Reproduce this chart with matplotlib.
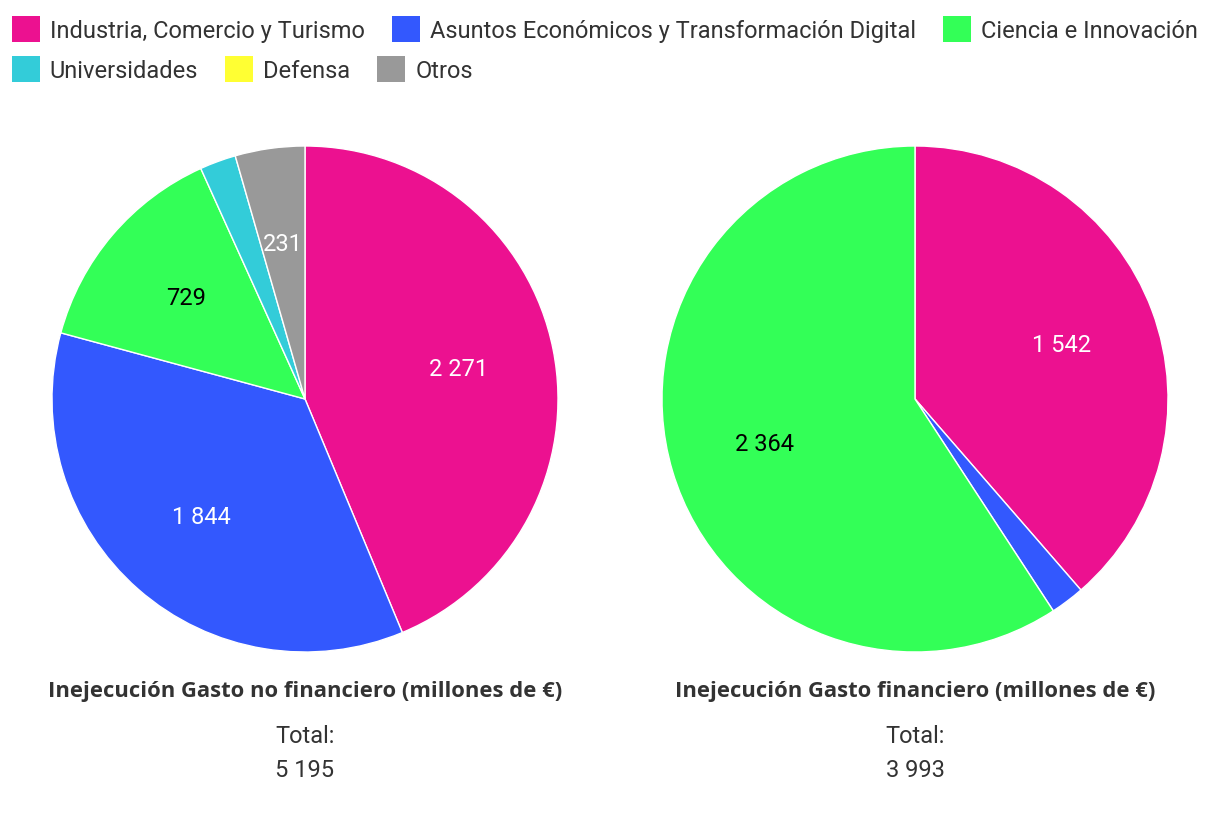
import matplotlib.pyplot as plt
import numpy as np
from matplotlib.patches import Patch

plt.rcParams['font.family'] = ['Roboto', 'DejaVu Sans']

# Datos (millones de €)
categorias = ['Industria, Comercio y Turismo', 'Asuntos Económicos y Transformación Digital',
              'Ciencia e Innovación', 'Universidades', 'Defensa', 'Otros']
colores = ['#EC1190', '#3358FE', '#33FF57', '#33CCD9', '#FFFF33', '#999999']
color_texto = ['white', 'white', 'black', 'black', 'black', 'white']

no_financiero = [2271, 1844, 729, 120, 0, 231]
financiero = [1542, 87, 2364, 0, 0, 0]

titulos = ['Inejecución Gasto no financiero (millones de €)',
           'Inejecución Gasto financiero (millones de €)']
totales = ['5 195', '3 993']


def fmt(v):
    return f'{v:,}'.replace(',', ' ')


W, H = 1220, 820
fig = plt.figure(figsize=(W / 100, H / 100), dpi=100)

centros = [305, 915]
radio = 253
cy = 400

for cx, datos, titulo, total in zip(centros, [no_financiero, financiero], titulos, totales):
    ax = fig.add_axes([(cx - radio) / W, (H - cy - radio) / H, 2 * radio / W, 2 * radio / H])
    idx = [i for i, v in enumerate(datos) if v > 0]
    vals = [datos[i] for i in idx]
    ax.pie(vals, colors=[colores[i] for i in idx], startangle=90, counterclock=False,
           wedgeprops=dict(edgecolor='white', linewidth=1))
    ax.set_xlim(-1, 1)
    ax.set_ylim(-1, 1)
    # etiquetas de valor
    suma = sum(vals)
    acum = 0
    for i, v in zip(idx, vals):
        medio = 90 - (acum + v / 2) / suma * 360
        acum += v
        if v / suma < 0.03:
            continue
        ang = np.deg2rad(medio)
        ax.text(0.62 * np.cos(ang), 0.62 * np.sin(ang), fmt(v), ha='center', va='center',
                fontsize=17, color=color_texto[i])
    fig.text(cx / W, 1 - 692 / H, titulo, ha='center', va='center', fontsize=15.8,
             fontweight='bold', family=['Open Sans', 'DejaVu Sans'], color='#333333')
    fig.text(cx / W, 1 - 737 / H, 'Total:', ha='center', va='center', fontsize=17, color='#333333')
    fig.text(cx / W, 1 - 771 / H, total, ha='center', va='center', fontsize=17, color='#333333')

# Leyenda en dos filas
filas = [[0, 1, 2], [3, 4, 5]]
for n, fila in enumerate(filas):
    handles = [Patch(facecolor=colores[i], edgecolor='none') for i in fila]
    fig.legend(handles, [categorias[i] for i in fila], loc='upper left',
               bbox_to_anchor=(0 / W, 1 - (5 + 40 * n) / H), ncol=3, frameon=False,
               fontsize=17, handlelength=1.19, handleheight=1.3, handletextpad=0.42,
               columnspacing=1.14, borderpad=0, labelcolor='#333333')

fig.savefig('out.png', dpi=100, facecolor='white')
